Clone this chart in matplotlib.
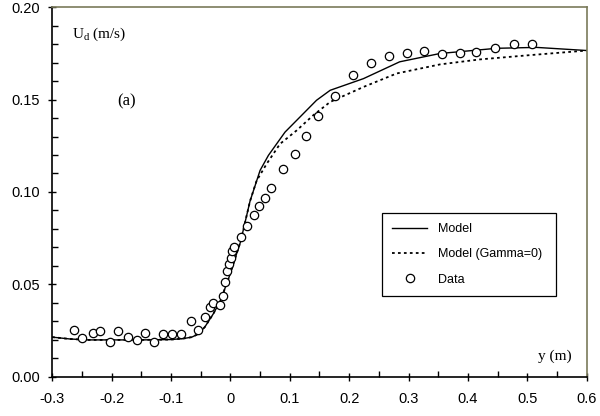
import matplotlib
matplotlib.use("Agg")
import matplotlib.pyplot as plt
from matplotlib.ticker import MultipleLocator

# measured points (y position, drift velocity)
y_data = [-0.263, -0.249, -0.232, -0.219, -0.202, -0.189, -0.173, -0.158, -0.143,
          -0.128, -0.113, -0.098, -0.083, -0.067, -0.054, -0.043, -0.035, -0.029,
          -0.017, -0.013, -0.009, -0.006, -0.002, 0.001, 0.003, 0.006, 0.018,
          0.028, 0.039, 0.048, 0.058, 0.068, 0.088, 0.108, 0.127, 0.148, 0.176,
          0.207, 0.237, 0.267, 0.298, 0.326, 0.357, 0.386, 0.414, 0.446, 0.477, 0.507]
u_data = [0.0256, 0.0208, 0.0238, 0.0246, 0.0190, 0.0246, 0.0218, 0.0200, 0.0238,
          0.0190, 0.0231, 0.0231, 0.0231, 0.0300, 0.0256, 0.0323, 0.0376, 0.0401,
          0.0387, 0.0439, 0.0513, 0.0573, 0.0609, 0.0641, 0.0680, 0.0701, 0.0758,
          0.0817, 0.0878, 0.0925, 0.0969, 0.1023, 0.1122, 0.1207, 0.1305, 0.1409, 0.1518,
          0.1635, 0.1697, 0.1734, 0.1751, 0.1762, 0.1745, 0.1749, 0.1756, 0.1779, 0.1799, 0.1799]

# model curve
y_model = [-0.30, -0.27, -0.24, -0.20, -0.15, -0.10, -0.08, -0.065, -0.054, -0.043,
           -0.029, -0.017, -0.009, 0.0, 0.0085, 0.017, 0.033, 0.05, 0.064, 0.092,
           0.117, 0.145, 0.168, 0.224, 0.285, 0.353, 0.448, 0.515, 0.60]
u_model = [0.0215, 0.0205, 0.0200, 0.0200, 0.0200, 0.0202, 0.0207, 0.0215, 0.0232, 0.0270,
           0.0340, 0.0410, 0.0480, 0.0560, 0.0647, 0.0730, 0.0950, 0.1117, 0.1198, 0.1324,
           0.1405, 0.1496, 0.1550, 0.1613, 0.1704, 0.1749, 0.1777, 0.1782, 0.1765]

# model with Gamma = 0
y_gamma0 = [-0.30, -0.27, -0.24, -0.20, -0.15, -0.10, -0.08, -0.065, -0.054, -0.043,
            -0.029, -0.017, -0.009, 0.0, 0.0085, 0.017, 0.033, 0.044, 0.061, 0.0835,
            0.1116, 0.1395, 0.168, 0.224, 0.280, 0.353, 0.420, 0.504, 0.60]
u_gamma0 = [0.0215, 0.0205, 0.0200, 0.0200, 0.0200, 0.0202, 0.0207, 0.0215, 0.0232, 0.0270,
            0.0340, 0.0410, 0.0480, 0.0560, 0.0647, 0.0730, 0.0950, 0.1060, 0.1152, 0.1260,
            0.1333, 0.1415, 0.1487, 0.1568, 0.1641, 0.1690, 0.1717, 0.1740, 0.1765]

plt.rcParams['font.family'] = ['Liberation Sans', 'DejaVu Sans']
plt.rcParams['mathtext.fontset'] = 'custom'
plt.rcParams['mathtext.rm'] = 'Liberation Serif'

fig = plt.figure(figsize=(6.0, 4.16), dpi=100)
ax = fig.add_axes([0.087, 0.094, 0.891, 0.889])

ax.plot(y_model, u_model, color='black', lw=1.0, label='Model')
ax.plot(y_gamma0, u_gamma0, color='black', lw=1.3, linestyle=(0, (1.5, 1.8)),
        label='Model (Gamma=0)')
ax.plot(y_data, u_data, linestyle='none', marker='o', markersize=6,
        markerfacecolor='white', markeredgecolor='black', markeredgewidth=0.9,
        label='Data')

ax.set_xlim(-0.3, 0.6)
ax.set_ylim(0.0, 0.2)
ax.xaxis.set_minor_locator(MultipleLocator(0.05))
ax.yaxis.set_minor_locator(MultipleLocator(0.01))
ax.set_xticks([-0.3, -0.2, -0.1, 0, 0.1, 0.2, 0.3, 0.4, 0.5, 0.6])
ax.set_xticklabels(['-0.3', '-0.2', '-0.1', '0', '0.1', '0.2', '0.3', '0.4', '0.5', '0.6'])
ax.set_yticks([0.0, 0.05, 0.10, 0.15, 0.20])
ax.set_yticklabels(['0.00', '0.05', '0.10', '0.15', '0.20'])
ax.tick_params(axis='both', which='major', direction='inout', length=6, width=1,
               labelsize=10.5)
ax.tick_params(axis='x', which='major', pad=8)
ax.tick_params(axis='y', which='major', pad=6)
ax.tick_params(axis='both', which='minor', direction='in', length=4, width=1)

for s in ['left', 'bottom']:
    ax.spines[s].set_color('black')
    ax.spines[s].set_linewidth(1.2)
for s in ['top', 'right']:
    ax.spines[s].set_color('#7a7a5a')
    ax.spines[s].set_linewidth(1.2)

ax.text(-0.267, 0.185, r'U$_\mathrm{d}$ (m/s)', fontsize=11, family='Liberation Serif',
        va='center', ha='left')
ax.text(-0.19, 0.149, '(a)', fontsize=12, family='Liberation Serif', va='center', ha='left')
ax.text(0.575, 0.011, 'y (m)', fontsize=11, family='Liberation Serif', va='center', ha='right')

leg = ax.legend(loc='lower left', bbox_to_anchor=(0.617, 0.22, 0.325, 0.22),
                mode='expand', fontsize=9, frameon=True, fancybox=False,
                edgecolor='black', framealpha=1, borderpad=0.8, labelspacing=1.05,
                handlelength=2.8, handletextpad=0.9, borderaxespad=0)
leg.get_frame().set_linewidth(0.9)

fig.savefig('out.png', dpi=100)
